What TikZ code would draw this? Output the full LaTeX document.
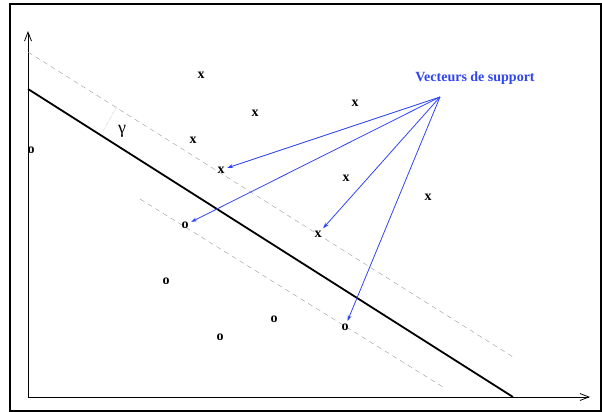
\documentclass[tikz,border=0pt]{standalone}
\usepackage{fontspec}
\setmainfont{Liberation Serif}
\usepackage{xcolor}
\usepackage{tikz}
\usetikzlibrary{calc,positioning,arrows.meta}
\definecolor{svBlue}{HTML}{2F45F2}
\definecolor{marginGray}{HTML}{9A9A9A}

\begin{document}
\begin{tikzpicture}[x=1pt, y=-1pt,
    pt/.style={font=\fontsize{14}{16}\selectfont\bfseries, inner sep=1.5pt},
    margin/.style={marginGray, dashed, dash pattern=on 5pt off 4pt, thin},
    axis/.style={line width=0.8pt, -{Straight Barb[length=9pt, width=7pt]}},
    sv/.style={svBlue, line width=0.8pt, -{Stealth[length=6pt, width=4pt]}, shorten >=1pt}]

    \useasboundingbox (0,0) rectangle (602,412);

    % === Outer frame ===
    \draw[line width=1.6pt] (10,4) rectangle (601,411);

    % === Axes ===
    \draw[axis] (28,397) -- (28,31);
    \draw[axis] (28,397) -- (590,397);

    % === Margins (dashed) and separating hyperplane ===
    \draw[margin] (28,52) -- (513,357);
    \draw[margin] (140,199) -- (443,387);
    \draw[line width=1.8pt] (28,89) -- (513,397);

    % --- gap marker ---
    \draw[marginGray, densely dotted] (103,131) -- (117,106);
    \node[font=\fontsize{18}{20}\selectfont] (gam) at (122,131) {γ};

    % === Class x ===
    \foreach \n/\x/\y in {a/201/75, b/255/113, c/355/103, d/193/140,
      e/221/170, f/346/178, g/428/197, h/318/234} {
      \node[pt] (x\n) at (\x,\y) {x};
    }

    % === Class o ===
    \foreach \n/\x/\y in {a/31/150, b/185/225, c/166/281, d/274/319,
      e/220/337, f/345/327} {
      \node[pt] (o\n) at (\x,\y) {o};
    }

    % === Support vectors ===
    \node[svBlue, font=\fontsize{14}{16}\selectfont\bfseries] (lbl) at (475,78)
      {Vecteurs de support};
    \coordinate (hub) at (440,97);
    \foreach \t in {xe, ob, xh, of} {
      \draw[sv] (hub) -- (\t);
    }
\end{tikzpicture}
\end{document}
